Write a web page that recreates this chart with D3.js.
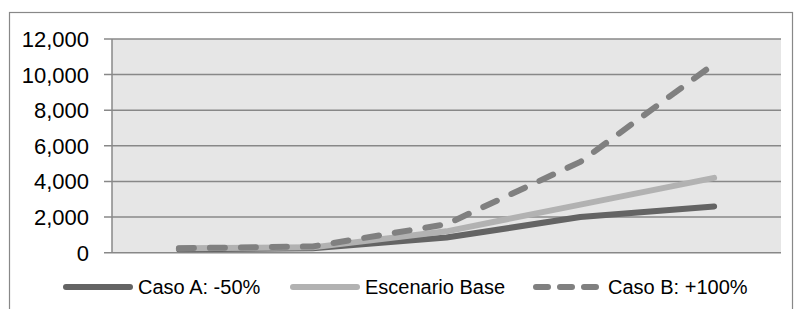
<!DOCTYPE html>
<html>
<head>
<meta charset="utf-8">
<script src="https://cdn.jsdelivr.net/npm/d3@7"></script>
<style>
  body { margin: 0; background: #fff; }
  svg { display: block; font-family: "Liberation Sans", Arial, sans-serif; }
</style>
</head>
<body>
<svg id="chart" width="794" height="309"></svg>
<script>
const periods = ["P1", "P2", "P3", "P4", "P5"]
const casoA = [200, 250, 850, 2000, 2600]
const base = [250, 300, 1200, 2700, 4200]
const casoB = [250, 350, 1600, 5100, 10600]
const yTicks = [0, 2000, 4000, 6000, 8000, 10000, 12000]

const series = [
  { name: "Caso A: -50%", values: casoA, color: "#646464", dash: null },
  { name: "Escenario Base", values: base, color: "#b2b2b2", dash: null },
  { name: "Caso B: +100%", values: casoB, color: "#808080", dash: "15,16" }
]

const full_width = 794
const full_height = 309
const plot = { left: 112, top: 39, right: 781, bottom: 252.7 }

const svg = d3.select("#chart")

// outer frame (bottom runs off the picture)
svg.append("rect")
  .attr("x", 9.5).attr("y", 12.5)
  .attr("width", 783).attr("height", 320)
  .attr("fill", "none")
  .attr("stroke", "#888")
  .attr("stroke-width", 1.2)

// plot background
svg.append("rect")
  .attr("x", plot.left).attr("y", plot.top)
  .attr("width", plot.right - plot.left)
  .attr("height", plot.bottom - plot.top)
  .attr("fill", "#e6e6e6")

const x = d3.scalePoint()
  .domain(periods)
  .range([plot.left, plot.right])
  .padding(0.5)

const y = d3.scaleLinear()
  .domain([0, 12000])
  .range([plot.bottom, plot.top])

// grid lines
svg.append("g")
  .selectAll("line")
  .data(yTicks)
  .enter()
  .append("line")
  .attr("x1", plot.left - 8)
  .attr("x2", plot.right)
  .attr("y1", d => y(d))
  .attr("y2", d => y(d))
  .attr("stroke", "#888")
  .attr("stroke-width", 1.5)

// y axis line
svg.append("line")
  .attr("x1", plot.left).attr("x2", plot.left)
  .attr("y1", plot.top).attr("y2", plot.bottom)
  .attr("stroke", "#888")
  .attr("stroke-width", 1.5)

// y labels
svg.append("g")
  .selectAll("text")
  .data(yTicks)
  .enter()
  .append("text")
  .attr("x", 89)
  .attr("y", d => y(d))
  .attr("dy", "0.36em")
  .attr("text-anchor", "end")
  .attr("font-size", "22px")
  .attr("fill", "#000")
  .text(d => d3.format(",")(d))

const line = d3.line()
  .x((d, i) => x(periods[i]))
  .y(d => y(d))

svg.append("g")
  .selectAll("path")
  .data(series)
  .enter()
  .append("path")
  .attr("d", d => line(d.values))
  .attr("fill", "none")
  .attr("stroke", d => d.color)
  .attr("stroke-width", 6)
  .attr("stroke-linecap", "round")
  .attr("stroke-linejoin", "round")
  .attr("stroke-dasharray", d => d.dash)

// legend
const legendX = [66, 293, 536]
const legendY = 287
const legend = svg.append("g")
  .selectAll("g")
  .data(series)
  .enter()
  .append("g")
  .attr("transform", (d, i) => `translate(${legendX[i]}, ${legendY})`)

legend.append("line")
  .attr("x1", 0).attr("x2", 64)
  .attr("y1", 0).attr("y2", 0)
  .attr("stroke", d => d.color)
  .attr("stroke-width", 6)
  .attr("stroke-linecap", "round")
  .attr("stroke-dasharray", d => d.dash ? "12,12" : null)

legend.append("text")
  .attr("x", 72)
  .attr("y", 0)
  .attr("dy", "0.36em")
  .attr("font-size", "20px")
  .attr("fill", "#000")
  .text(d => d.name)
</script>
</body>
</html>
